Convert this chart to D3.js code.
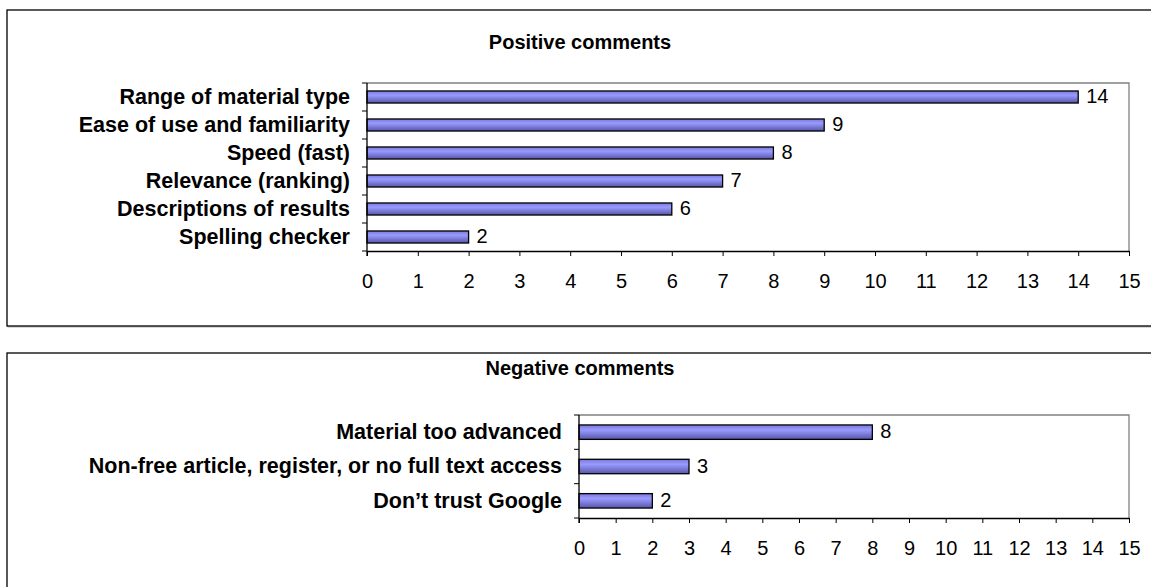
<!DOCTYPE html>
<html>
<head>
<meta charset="utf-8">
<script src="https://cdn.jsdelivr.net/npm/d3@7"></script>
<style>
html,body{margin:0;padding:0;background:#fff;}
svg{display:block;font-family:"Liberation Sans",Arial,sans-serif;}
</style>
</head>
<body>
<svg id="chart" width="1151" height="587"></svg>
<script>
const posCategories = ["Range of material type","Ease of use and familiarity","Speed (fast)","Relevance (ranking)","Descriptions of results","Spelling checker"];
const posValues = [14, 9, 8, 7, 6, 2];
const negCategories = ["Material too advanced","Non-free article, register, or no full text access","Don\u2019t trust Google"];
const negValues = [8, 3, 2];
const tickValues = [0,1,2,3,4,5,6,7,8,9,10,11,12,13,14,15];
const titles = ["Positive comments","Negative comments"];

const svg = d3.select("#chart");
const defs = svg.append("defs");
const grad = defs.append("linearGradient").attr("id","barGrad").attr("x1",0).attr("y1",0).attr("x2",0).attr("y2",1);
grad.append("stop").attr("offset","0%").attr("stop-color","#7a7ad8");
grad.append("stop").attr("offset","35%").attr("stop-color","#9a9aff");
grad.append("stop").attr("offset","100%").attr("stop-color","#5656a8");

function panel(cfg){
  const g = svg.append("g");
  g.append("rect").attr("x",cfg.fx+1).attr("y",cfg.fy+1).attr("width",cfg.fw).attr("height",cfg.fh)
    .attr("fill","none").attr("stroke","#b0b0b0").attr("stroke-width",1);
  g.append("rect").attr("x",cfg.fx).attr("y",cfg.fy).attr("width",cfg.fw).attr("height",cfg.fh)
    .attr("fill","#fff").attr("stroke","#000").attr("stroke-width",1.3);

  g.append("text").attr("x",cfg.titleX).attr("y",cfg.titleY).attr("text-anchor","middle")
    .attr("font-weight","bold").attr("font-size","20px").attr("dominant-baseline","middle").text(cfg.title);

  const x = d3.scaleLinear().domain([0,15]).range([cfg.left,cfg.right]);
  const y = d3.scaleBand().domain(cfg.cats).range([cfg.top,cfg.bottom]);

  g.append("path").attr("d",`M${cfg.left},${cfg.top}H${cfg.right}V${cfg.bottom}`)
    .attr("fill","none").attr("stroke","#808080").attr("stroke-width",1.3);

  const bh = y.bandwidth()*cfg.barFrac;
  g.selectAll("rect.bar").data(cfg.vals).enter().append("rect").attr("class","bar")
    .attr("x",x(0)).attr("y",(d,i)=>y(cfg.cats[i])+y.bandwidth()/2-bh/2)
    .attr("width",d=>x(d)-x(0)).attr("height",bh)
    .attr("fill","url(#barGrad)").attr("stroke","#000").attr("stroke-width",1.3);

  g.selectAll("text.val").data(cfg.vals).enter().append("text").attr("class","val")
    .attr("x",d=>x(d)+8).attr("y",(d,i)=>y(cfg.cats[i])+y.bandwidth()/2+1)
    .attr("dominant-baseline","middle").attr("font-size","20px").text(d=>d);

  const xa = g.append("g").attr("transform",`translate(0,${cfg.bottom})`)
    .call(d3.axisBottom(x).tickValues(tickValues).tickSize(5).tickSizeOuter(0).tickPadding(18));
  xa.select(".domain").attr("stroke","#000").attr("stroke-width",1.3);
  xa.selectAll(".tick line").attr("stroke","#000");
  xa.selectAll("text").attr("font-size","20px").attr("font-family","Liberation Sans, Arial, sans-serif").attr("fill","#000");

  g.append("line").attr("x1",cfg.left).attr("x2",cfg.left).attr("y1",cfg.top).attr("y2",cfg.bottom+5)
    .attr("stroke","#000").attr("stroke-width",1.3);
  const bounds = cfg.cats.map(c=>y(c)).concat([cfg.bottom]);
  g.selectAll("line.yt").data(bounds).enter().append("line").attr("class","yt")
    .attr("x1",cfg.left-5).attr("x2",cfg.left).attr("y1",d=>d).attr("y2",d=>d)
    .attr("stroke","#000").attr("stroke-width",1);

  g.selectAll("text.cat").data(cfg.cats).enter().append("text").attr("class","cat")
    .attr("x",cfg.left-17).attr("y",d=>y(d)+y.bandwidth()/2+1)
    .attr("text-anchor","end").attr("dominant-baseline","middle")
    .attr("font-weight","bold").attr("font-size","21.5px").text(d=>d);
}

panel({fx:7,fy:10,fw:1160,fh:316,title:titles[0],titleX:580,titleY:44,
  left:367,right:1129,top:83,bottom:251,cats:posCategories,vals:posValues,barFrac:0.43});
panel({fx:7,fy:353,fw:1160,fh:260,title:titles[1],titleX:580,titleY:370,
  left:579,right:1129,top:415,bottom:518,cats:negCategories,vals:negValues,barFrac:0.42});
</script>
</body>
</html>
